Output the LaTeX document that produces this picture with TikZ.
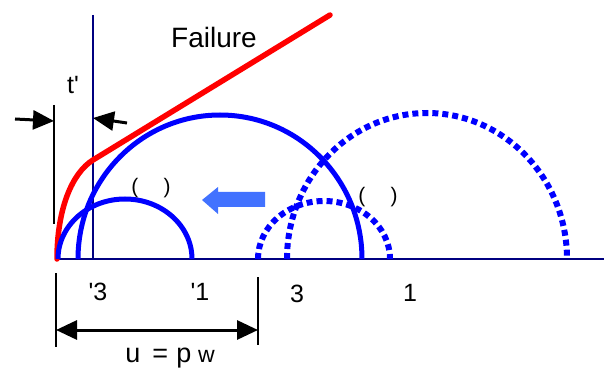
\documentclass[tikz,border=0pt]{standalone}
\usepackage{fontspec}
\setmainfont{Liberation Sans}[Ligatures=TeXOff]
\usetikzlibrary{arrows.meta,positioning}

\begin{document}
\begin{tikzpicture}[
  x=1pt, y=1pt,
  >={Triangle[length=21pt, width=19pt]},
  axisline/.style={draw=navyc, line width=1.5pt},
  tickline/.style={draw=black, line width=1.5pt},
  mohr/.style={draw=blue, line width=5pt},
  mohrdot/.style={draw=blue, line width=6pt, dash pattern=on 6pt off 4pt},
  dimarrow/.style={->, line width=3pt},
  lbl/.style={inner sep=0pt, font=\fontsize{25}{27}\selectfont},
  paren/.style={inner sep=0pt, font=\fontsize{21}{23}\selectfont}
]

\definecolor{navyc}{RGB}{0,0,128}
\definecolor{shiftc}{RGB}{66,114,255}

\useasboundingbox (0,-110) rectangle (604,259);

% axes and reference lines
\coordinate (o) at (56,0);
\coordinate (xend) at (604,0);
\coordinate (vtop) at (93,244);
\coordinate (vbot) at (93,0);
\coordinate (btop) at (54,154);
\coordinate (bbot) at (54,35);
\draw[axisline] (o) -- (xend);
\draw[axisline] (vtop) -- (vbot);
\draw[tickline] (btop) -- (bbot);

% failure envelope
\coordinate (fstart) at (330,244);
\coordinate (fknee) at (93,99);
\coordinate (forig) at (57,0);
\draw[red, line width=5.5pt, line cap=round] (fstart) -- (fknee) .. controls (72,86) and (57,50) .. (forig);
\node[inner sep=0pt, font=\fontsize{28}{30}\selectfont] (failure) at (214,222) {Failure};

% t' dimension
\coordinate (tla) at (15,140);
\coordinate (tlb) at (54,138);
\coordinate (tra) at (127,136);
\coordinate (trb) at (93,141);
\draw[dimarrow] (tla) -- (tlb);
\draw[dimarrow] (tra) -- (trb);
\node[lbl] (tprime) at (73,174) {t'};

% effective stress circles
\draw[mohr] (58,0) arc[start angle=180, end angle=0, x radius=67, y radius=60];
\draw[mohr] (78,0) arc[start angle=180, end angle=0, x radius=142, y radius=144];

% total stress circles
\draw[mohrdot] (258,0) arc[start angle=180, end angle=0, x radius=66, y radius=58];
\draw[mohrdot] (287,0) arc[start angle=180, end angle=0, x radius=140, y radius=146];

% shift arrow
\fill[shiftc] (202,59) -- (218,72) -- (218,67) -- (265,67) -- (265,52) -- (218,52) -- (218,45) -- cycle;

\node[paren] (parena) at (151,71) {(\hspace{1.2em})};
\node[paren] (parenb) at (378,62) {(\hspace{1.2em})};

% stress labels
\node[lbl] (sthreep) at (98,-33) {'3};
\node[lbl] (sonep) at (200,-33) {'1};
\node[lbl] (sthree) at (297,-35) {3};
\node[lbl] (sone) at (410,-34) {1};

% pore pressure
\coordinate (ua) at (56,-14);
\coordinate (ub) at (56,-88);
\coordinate (uc) at (258,-18);
\coordinate (ud) at (258,-86);
\coordinate (ul) at (56,-71);
\coordinate (ur) at (258,-71);
\draw[tickline] (ua) -- (ub);
\draw[tickline] (uc) -- (ud);
\draw[dimarrow, <->] (ul) -- (ur);
\node[lbl, anchor=base, font=\fontsize{27}{29}\selectfont] (upw) at (170,-103) {u\hspace{0.45em}=\hspace{0.3em}p\hspace{0.25em}{\fontsize{23}{25}\selectfont w}};

\end{tikzpicture}
\end{document}
